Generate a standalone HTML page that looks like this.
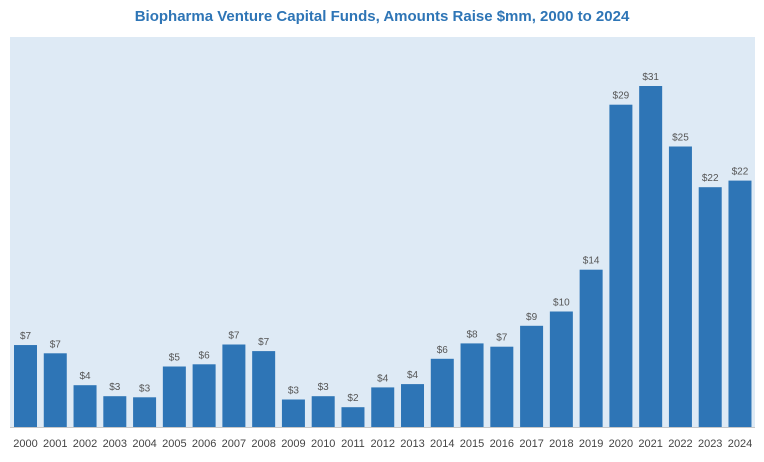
<!DOCTYPE html>
<html><head><meta charset="utf-8"><style>
body{margin:0;background:#fff;width:764px;height:457px;overflow:hidden;font-family:"Liberation Sans",sans-serif}
</style></head><body>
<svg id="chart" width="764" height="457" xmlns="http://www.w3.org/2000/svg">
<text x="382" y="21" text-anchor="middle" font-size="15" font-weight="bold" fill="#2e75b6">Biopharma Venture Capital Funds, Amounts Raise $mm, 2000 to 2024</text>
<rect x="10" y="37" width="745" height="390" fill="#deeaf5"/>
<line x1="10" x2="755" y1="427.5" y2="427.5" stroke="#c8c8c8"/>
<g id="bars"></g>
</svg>
<script>
const years=["2000","2001","2002","2003","2004","2005","2006","2007","2008","2009","2010","2011","2012","2013","2014","2015","2016","2017","2018","2019","2020","2021","2022","2023","2024"];
const values=[7.45,6.7,3.8,2.8,2.7,5.5,5.7,7.5,6.9,2.5,2.8,1.8,3.6,3.9,6.2,7.6,7.3,9.2,10.5,14.3,29.3,31,25.5,21.8,22.4];
const labels=["$7","$7","$4","$3","$3","$5","$6","$7","$7","$3","$3","$2","$4","$4","$6","$8","$7","$9","$10","$14","$29","$31","$25","$22","$22"];
const base=427, scale=11.0, x0=25.5, pitch=29.77, bw=23;
const xPos=i=>x0+i*pitch;
const yPos=v=>base-v*scale;
const g=document.getElementById('bars');
const NS="http://www.w3.org/2000/svg";
years.forEach((yr,i)=>{
  const r=document.createElementNS(NS,'rect');
  
  
  r.setAttribute('x',xPos(i)-bw/2);r.setAttribute('y',yPos(values[i]));
  r.setAttribute('width',bw);r.setAttribute('height',base-yPos(values[i]));
  r.setAttribute('fill','#2e75b6');
  g.appendChild(r);
  const t=document.createElementNS(NS,'text');
  
  
  t.setAttribute('x',xPos(i));t.setAttribute('y',yPos(values[i])-6);
  t.setAttribute('text-anchor','middle');t.setAttribute('font-size','10');t.setAttribute('fill','#555');
  t.textContent=labels[i];g.appendChild(t);
  const a=document.createElementNS(NS,'text');
  
  
  a.setAttribute('x',xPos(i));a.setAttribute('y',447);
  a.setAttribute('text-anchor','middle');a.setAttribute('font-size','11');a.setAttribute('fill','#444');
  a.textContent=yr;g.appendChild(a);
});
</script>
</body></html>
